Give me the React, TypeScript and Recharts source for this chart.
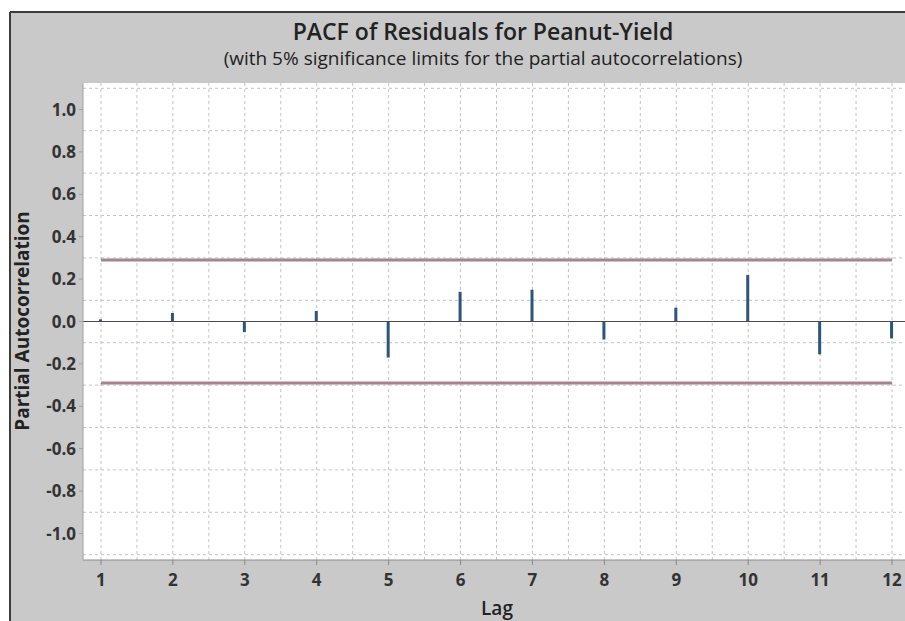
import React from "react";
import {
  ComposedChart,
  Bar,
  Line,
  XAxis,
  YAxis,
  CartesianGrid,
  ReferenceLine,
} from "recharts";

// ---- data ----
const lags = [1, 2, 3, 4, 5, 6, 7, 8, 9, 10, 11, 12];
const pacfValues = [0.01, 0.04, -0.05, 0.05, -0.17, 0.14, 0.15, -0.085, 0.065, 0.22, -0.155, -0.08];
const sigLimit = 0.29;
const sigLags = [1, 12];
const yTicks = [-1.0, -0.8, -0.6, -0.4, -0.2, 0.0, 0.2, 0.4, 0.6, 0.8, 1.0];
const gridY = [-1.1, -1.0, -0.9, -0.8, -0.7, -0.6, -0.5, -0.4, -0.3, -0.2, -0.1, 0.1, 0.2, 0.3, 0.4, 0.5, 0.6, 0.7, 0.8, 0.9, 1.0, 1.1];
const gridX = [1, 1.5, 2, 2.5, 3, 3.5, 4, 4.5, 5, 5.5, 6, 6.5, 7, 7.5, 8, 8.5, 9, 9.5, 10, 10.5, 11, 11.5, 12];
const titleText = "PACF of Residuals for Peanut-Yield";
const subtitleText = "(with 5% significance limits for the partial autocorrelations)";
const xLabel = "Lag";
const yLabel = "Partial Autocorrelation";

const pacfData = lags.map((lag, i) => ({ lag, pacf: pacfValues[i] }));
const sigData = sigLags.map((lag) => ({ lag, upper: sigLimit, lower: -sigLimit }));

const FONT = "'Open Sans', 'Noto Sans', sans-serif";

export default function App() {
  return (
    <div
      style={{
        position: "fixed",
        left: 0,
        top: 0,
        width: 905,
        height: 621,
        overflow: "hidden",
        background: "#ffffff",
      }}
    >
      <svg
        width={905}
        height={621}
        style={{ position: "absolute", left: 0, top: 0 }}
      >
        <rect x={10} y={12} width={900} height={620} fill="#c9c9c9" />
        <line x1={10} y1={12} x2={905} y2={12} stroke="#3c3c3c" strokeWidth={2} />
        <line x1={10} y1={12} x2={10} y2={621} stroke="#3c3c3c" strokeWidth={2} />
        <text
          x={483}
          y={31}
          textAnchor="middle"
          dominantBaseline="central"
          fontFamily={FONT}
          fontWeight={600}
          fontSize={23}
          fill="#222"
        >
          {titleText}
        </text>
        <text
          x={483}
          y={58}
          textAnchor="middle"
          dominantBaseline="central"
          fontFamily={FONT}
          fontWeight={400}
          fontSize={19}
          fill="#222"
        >
          {subtitleText}
        </text>
        <text
          x={22}
          y={321}
          transform="rotate(-90 22 321)"
          textAnchor="middle"
          dominantBaseline="central"
          fontFamily={FONT}
          fontWeight={700}
          fontSize={19}
          fill="#222"
        >
          {yLabel}
        </text>
        <text
          x={497}
          y={608}
          textAnchor="middle"
          dominantBaseline="central"
          fontFamily={FONT}
          fontWeight={600}
          fontSize={19}
          fill="#222"
        >
          {xLabel}
        </text>
      </svg>
      <div style={{ position: "absolute", left: 0, top: 0 }}>
        <ComposedChart
          width={912}
          height={621}
          data={pacfData}
          margin={{ top: 83, right: 2, bottom: 0, left: 0 }}
        >
          <CartesianGrid
            fill="#ffffff"
            fillOpacity={1}
            stroke="#c4c4c4"
            strokeDasharray="3 3"
            horizontalValues={gridY}
            verticalValues={gridX}
          />
          <XAxis
            dataKey="lag"
            type="number"
            domain={[0.75, 12.25]}
            ticks={lags}
            allowDataOverflow
            height={61}
            tickSize={5}
            tickMargin={9}
            stroke="#8a8a8a"
            tickLine={{ stroke: "#8a8a8a" }}
            tick={{ fontFamily: FONT, fontSize: 17, fontWeight: 700, fill: "#333" }}
          />
          <YAxis
            type="number"
            domain={[-1.125, 1.125]}
            ticks={yTicks}
            allowDataOverflow
            width={83}
            tickSize={4}
            tickMargin={3}
            stroke="#a0a0a0"
            tickLine={{ stroke: "#a0a0a0" }}
            tickFormatter={(v: number) => v.toFixed(1)}
            tick={{ fontFamily: FONT, fontSize: 17, fontWeight: 700, fill: "#333" }}
          />
          <ReferenceLine y={0} stroke="#4a4a4a" strokeWidth={1.2} />
          <Bar dataKey="pacf" barSize={3} fill="#2e5478" isAnimationActive={false} />
          <Line
            data={sigData}
            dataKey="upper"
            stroke="#a3868d"
            strokeWidth={3}
            dot={false}
            isAnimationActive={false}
          />
          <Line
            data={sigData}
            dataKey="lower"
            stroke="#a3868d"
            strokeWidth={3}
            dot={false}
            isAnimationActive={false}
          />
        </ComposedChart>
      </div>
    </div>
  );
}
